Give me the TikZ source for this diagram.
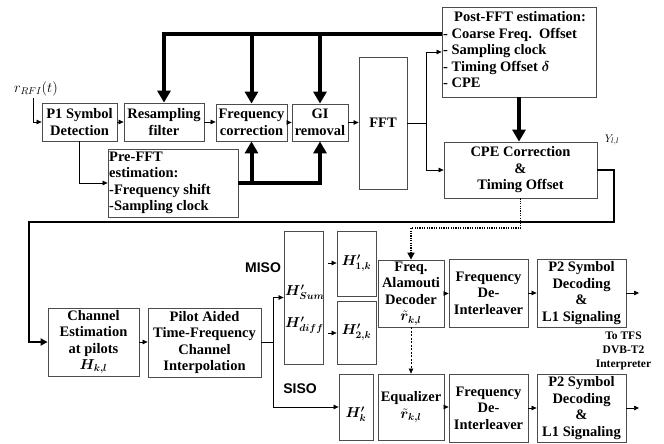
\documentclass[tikz,border=0pt]{standalone}
\usepackage{fontspec}
\setmainfont{Liberation Serif}
\newfontfamily\labsans{Liberation Sans}
\usepackage{amsmath,bm}
\usetikzlibrary{arrows.meta}
\begin{document}
\begin{tikzpicture}[x=1pt,y=-1pt,
  blk/.style={draw=black!70, line width=0.8pt, inner sep=0pt, align=center,
    font=\fontsize{14.5}{16.5}\selectfont\bfseries},
  txt/.style={inner sep=0pt, font=\fontsize{14.5}{16.5}\selectfont\bfseries},
  thinarr/.style={line width=0.7pt, -{Triangle[length=5pt,width=4.5pt]}},
  thinline/.style={line width=0.7pt},
  thickarr/.style={line width=4pt, -{Triangle[length=12pt,width=13pt]}},
  thickline/.style={line width=4pt},
  fbarr/.style={line width=2pt, -{Triangle[length=7pt,width=7pt]}},
  dotarr/.style={line width=1.6pt, dash pattern=on 1.2pt off 1.2pt, -{Triangle[length=7pt,width=7pt]}},
  dasharr/.style={line width=0.6pt, dash pattern=on 2pt off 1.5pt, -{Triangle[length=5pt,width=4.5pt]}},
  modelab/.style={inner sep=0pt, font=\labsans\fontsize{14}{16}\selectfont\bfseries}
]
\useasboundingbox[fill=white] (0,0) rectangle (664,444);

% top row
\node[blk, minimum width=75pt, minimum height=38pt] (p1) at (79.5,122) {P1 Symbol\\Detection};
\node[blk, minimum width=80pt, minimum height=38pt] (resamp) at (164,122) {Resampling\\filter};
\node[blk, minimum width=71pt, minimum height=37pt] (freq) at (251.5,122.5) {Frequency\\correction};
\node[blk, minimum width=56pt, minimum height=37pt] (gi) at (320,122.5) {GI\\removal};
\node[blk, minimum width=48pt, minimum height=132pt] (fft) at (383,123) {FFT};
\node[blk, minimum width=154pt, minimum height=90pt] (post) at (519,52) {};
\node[txt] (posth) at (520,17) {Post-FFT estimation:};
\node[txt, align=left, anchor=west] (postl) at (443,58) {- Coarse Freq.\ \ Offset\\- Sampling clock\\- Timing Offset $\bm{\delta}$\\- CPE};
\node[blk, minimum width=153pt, minimum height=56pt] (cpe) at (520.5,170) {CPE Correction\\\&\\Timing Offset};
\node[inner sep=0pt, font=\fontsize{11}{12}\selectfont] (ylab) at (612,140) {$Y_{l,l}$};
\node[blk, minimum width=130pt, minimum height=68pt] (pre) at (173,183) {};
\node[txt, align=left, anchor=west] (pret) at (109,183) {Pre-FFT\\estimation:\\-Frequency shift\\-Sampling clock};
\node[inner sep=0pt, font=\fontsize{14}{16}\selectfont] (rin) at (36,89) {$r_{RFI}(t)$};

% bottom
\node[blk, minimum width=91pt, minimum height=68pt] (chest) at (93.5,342) {Channel\\Estimation\\at pilots\\$\bm{H_{k,l}}$};
\node[blk, minimum width=113pt, minimum height=69pt] (pilot) at (204.5,342.5) {Pilot Aided\\Time-Frequency\\Channel\\Interpolation};
\node[blk, minimum width=39pt, minimum height=133pt] (hsum) at (303.5,297.5) {};
\node[txt, anchor=west] (hsumt) at (285,292) {$\bm{H'_{Sum}}$};
\node[txt, anchor=west] (hdifft) at (285,325) {$\bm{H'_{diff}}$};
\node[blk, minimum width=39pt, minimum height=65pt] (h1) at (356.5,263.5) {$\bm{H'_{1,k}}$};
\node[blk, minimum width=39pt, minimum height=63pt] (h2) at (356.5,332.5) {$\bm{H'_{2,k}}$};
\node[blk, minimum width=66pt, minimum height=67pt] (alam) at (411,293.5) {Freq.\\Alamouti\\Decoder\\$\tilde{\bm{r}}_{\bm{k,l}}$};
\node[blk, minimum width=34pt, minimum height=66pt] (hk) at (356,407) {};
\node[txt] (hkt) at (356,414) {$\bm{H'_{k}}$};
\node[blk, minimum width=66pt, minimum height=66pt] (eq) at (411,407) {Equalizer\\$\tilde{\bm{r}}_{\bm{k,l}}$};
\node[blk, minimum width=79pt, minimum height=68pt] (deint1) at (488.5,293) {Frequency\\De-\\Interleaver};
\node[blk, minimum width=89pt, minimum height=68pt] (p2a) at (581.5,293) {P2 Symbol\\Decoding\\\&\\L1 Signaling};
\node[blk, minimum width=79pt, minimum height=68pt] (deint2) at (488.5,408) {Frequency\\De-\\Interleaver};
\node[blk, minimum width=89pt, minimum height=68pt] (p2b) at (581.5,408) {P2 Symbol\\Decoding\\\&\\L1 Signaling};
\node[inner sep=0pt, align=center, font=\fontsize{11.5}{14}\selectfont\bfseries] (tfs) at (623.5,351) {To TFS\\DVB-T2\\Interpreter};
\node[modelab] (miso) at (263,268) {MISO};
\node[modelab] (siso) at (300,389) {SISO};

% coordinates
\coordinate (ytop) at (0,34);
\coordinate (ypre) at (0,183);
\coordinate (rin0) at (33,98);
\coordinate (fj) at (426,123);
\coordinate (fb1) at (614,222);
\coordinate (fb2) at (29,222);
\coordinate (ydot) at (0,228);
\coordinate (sp) at (273,342);
\coordinate (a1) at (328,263);
\coordinate (a2) at (328,333);
\coordinate (o1) at (639,293);
\coordinate (o2) at (639,408);

% thick feedback lines
\draw[thickline] (post.west |- ytop) -- (freq.north |- ytop);
\draw[thickarr] (gi.north |- ytop) -- (gi.north);
\draw[thickarr] (freq.north |- ytop) -- (freq.north);
\draw[thickarr, line join=miter] (freq.north |- ytop) -- (resamp.north |- ytop) -- (resamp.north);
\draw[thickarr] (pre.east |- ypre) -- (gi.south |- ypre) -- (gi.south);
\draw[thickarr] (freq.south |- ypre) -- (freq.south);
\draw[thickarr] (post.south) -- (post.south |- cpe.north);

% thin chain
\draw[thinarr] (rin0) |- (p1.west);
\draw[thinarr] (p1.east) -- (resamp.west);
\draw[thinarr] (resamp.east) -- (resamp.east -| freq.west);
\draw[thinarr] (freq.east) -- (gi.west);
\draw[thinarr] (gi.east) -- (gi.east -| fft.west);
\draw[thinarr] (p1.south) |- (pre.west);
\draw[thinline] (fft.east |- fj) -- (fj);
\draw[thinarr] (fj) |- (post.west);
\draw[thinarr] (fj) |- (cpe.west);

% feedback to channel estimation
\draw[fbarr] (cpe.east) -- (cpe.east -| fb1) -- (fb1) -- (fb2) -- (fb2 |- chest.west) -- (chest.west);
\draw[dotarr] (cpe.south) -- (cpe.south |- ydot) -- (alam.north |- ydot) -- (alam.north);

% bottom connections
\draw[thinarr] (chest.east) -- (chest.east -| pilot.west);
\draw[thinline] (pilot.east |- sp) -- (sp);
\draw[thinarr] (sp) |- (hsum.west);
\draw[thinarr] (sp) |- (hk.west);
\draw[thinarr] (a1) -- (a1 -| h1.west);
\draw[thinarr] (a2) -- (a2 -| h2.west);
\draw[dasharr] (alam.south) -- (eq.north);
\draw[thinarr] (alam.east) -- (alam.east -| deint1.west);
\draw[thinarr] (deint1.east) -- (p2a.west);
\draw[thinarr] (p2a.east |- o1) -- (o1);
\draw[thinarr] (eq.east) -- (eq.east -| deint2.west);
\draw[thinarr] (deint2.east) -- (p2b.west);
\draw[thinarr] (p2b.east |- o2) -- (o2);
\end{tikzpicture}
\end{document}
